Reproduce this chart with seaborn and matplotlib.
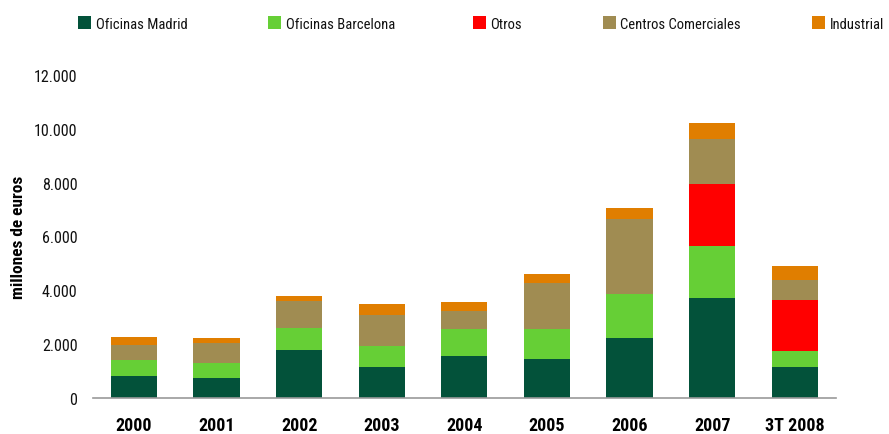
import numpy as np
import pandas as pd
import seaborn as sns
import matplotlib.pyplot as plt
from matplotlib import font_manager
from matplotlib.patches import Patch
from matplotlib.ticker import FuncFormatter

# data (millones de euros)
years = ['2000', '2001', '2002', '2003', '2004', '2005', '2006', '2007', '3T 2008']
madrid = [840, 750, 1790, 1160, 1570, 1460, 2240, 3720, 1160]
barcelona = [580, 570, 820, 780, 1000, 1110, 1630, 1930, 590]
otros = [0, 0, 0, 0, 0, 0, 0, 2300, 1890]
centros = [570, 740, 1010, 1160, 680, 1720, 2780, 1670, 740]
industrial = [290, 170, 170, 400, 320, 320, 410, 590, 520]

series = ['Oficinas Madrid', 'Oficinas Barcelona', 'Otros', 'Centros Comerciales', 'Industrial']
colors = ['#03523A', '#66CF36', '#FF0000', '#A08C52', '#E07E00']

df = pd.DataFrame({'year': years, 'Oficinas Madrid': madrid, 'Oficinas Barcelona': barcelona,
                   'Otros': otros, 'Centros Comerciales': centros, 'Industrial': industrial})
cum = df[series].cumsum(axis=1)
cum['year'] = years

sns.set_style('white')
# narrow font if there is one
names = {f.name for f in font_manager.fontManager.ttflist}
fam = 'DejaVu Sans'
for cand in ['Liberation Sans Narrow', 'Roboto Condensed', 'Open Sans Condensed', 'DejaVu Sans']:
    if cand in names:
        fam = cand
        break
plt.rcParams['font.family'] = [fam, 'DejaVu Sans']
plt.rcParams['font.stretch'] = 'condensed'

fig = plt.figure(figsize=(8.89, 4.35), dpi=100)
ax = fig.add_axes([0.1043, 0.0821, 0.8361, 0.7439])

# stacked bars: draw cumulative totals from the top layer down
for s, c in reversed(list(zip(series, colors))):
    sns.barplot(data=cum, x='year', y=s, color=c, saturation=1, width=0.56,
                linewidth=0, ax=ax)

ax.set_xlim(-0.5, 8.5)
ax.set_ylim(0, 12000)
ax.set_yticks(np.arange(0, 12001, 2000))
ax.yaxis.set_major_formatter(FuncFormatter(lambda v, p: f'{int(v):,}'.replace(',', '.')))
ax.set_xticks(range(len(years)))
ax.set_xticks(np.arange(-0.5, 9, 1), minor=True)
ax.tick_params(axis='x', which='major', length=0, pad=13, labelsize=13, labelcolor='black')
ax.tick_params(axis='x', which='minor', length=6, width=1, color='#999999', direction='out')
ax.tick_params(axis='y', length=0, pad=11, labelsize=11.5, labelcolor='#111111')
for lab in ax.get_xticklabels():
    lab.set_fontweight('bold')

for sp in ['top', 'right', 'left']:
    ax.spines[sp].set_visible(False)
ax.spines['bottom'].set_color('#999999')
ax.spines['bottom'].set_linewidth(1.2)

ax.set_xlabel('')
ax.set_ylabel('millones de euros', fontsize=12.5, fontweight='bold', labelpad=6, color='black')

# legend entries placed like the reference, one per series
marker_x = [78, 268, 473, 603, 812]
for s, c, mx in zip(series, colors, marker_x):
    leg = fig.legend([Patch(facecolor=c, edgecolor='none')], [s], loc='center left',
                     bbox_to_anchor=(mx / 889, 1 - 24.5 / 435), frameon=False,
                     fontsize=10.5, handlelength=0.9, handleheight=0.9,
                     handletextpad=0.3, borderpad=0, borderaxespad=0)
    leg.get_texts()[0].set_color('#111111')

fig.savefig('out.png', dpi=100)
